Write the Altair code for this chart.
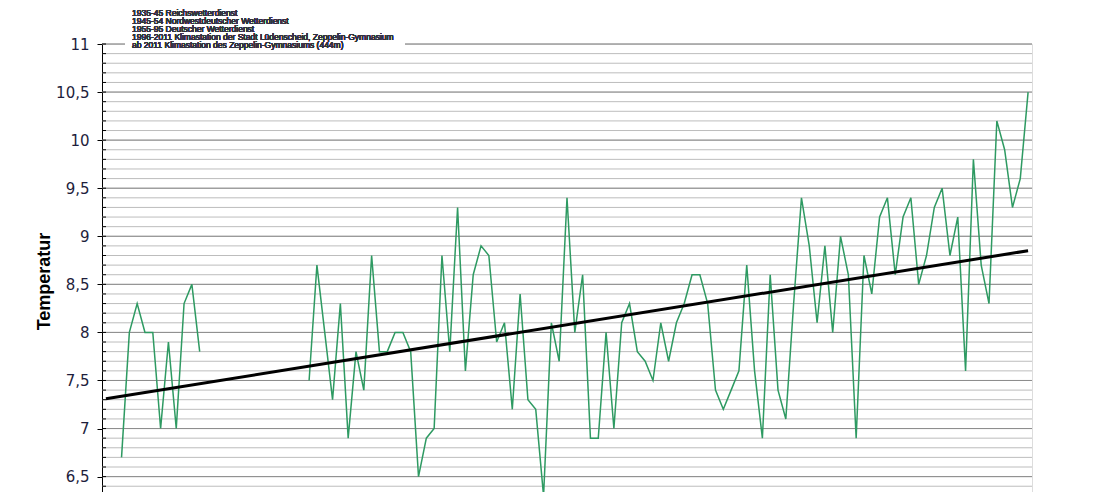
import altair as alt
import pandas as pd

# ---------------- data ----------------
years = list(range(1902, 2019))
temps = [
    6.7, 8.0, 8.3, 8.0, 8.0, 7.0, 7.9, 7.0, 8.3, 8.5, 7.8,          # 1902-1912
    None, None, None, None, None, None, None, None, None, None, None, None, None,  # 1913-1925
    7.5, 8.7, 8.0, 7.3, 8.3, 6.9, 7.8, 7.4, 8.8, 7.8,              # 1926-1935
    7.8, 8.0, 8.0, 7.8, 6.5, 6.9, 7.0, 8.8, 7.8, 9.3,              # 1936-1945
    7.6, 8.6, 8.9, 8.8, 7.9, 8.1, 7.2, 8.4, 7.3, 7.2,              # 1946-1955
    6.3, 8.1, 7.7, 9.4, 8.0, 8.6, 6.9, 6.9, 8.0, 7.0,              # 1956-1965
    8.1, 8.3, 7.8, 7.7, 7.5, 8.1, 7.7, 8.1, 8.3, 8.6,              # 1966-1975
    8.6, 8.3, 7.4, 7.2, 7.4, 7.6, 8.7, 7.6, 6.9, 8.6,              # 1976-1985
    7.4, 7.1, 8.3, 9.4, 8.9, 8.1, 8.9, 8.0, 9.0, 8.6,              # 1986-1995
    6.9, 8.8, 8.4, 9.2, 9.4, 8.6, 9.2, 9.4, 8.5, 8.8,              # 1996-2005
    9.3, 9.5, 8.8, 9.2, 7.6, 9.8, 8.7, 8.3, 10.2, 9.9,             # 2006-2015
    9.3, 9.6, 10.5,                                                # 2016-2018
]
trend_years = [1900, 2018]
trend_values = [7.31, 8.85]

major_ticks = [6.5, 7.0, 7.5, 8.0, 8.5, 9.0, 9.5, 10.0, 10.5, 11.0]
minor_ticks = [round(6.4 + 0.1 * i, 1) for i in range(47)]

header_lines = [
    "1935-45 Reichswetterdienst",
    "1945-54 Nordwestdeutscher Wetterdienst",
    "1955-95 Deutscher Wetterdienst",
    "1996-2011 Klimastation der Stadt Lüdenscheid, Zeppelin-Gymnasium",
    "ab 2011 Klimastation des Zeppelin-Gymnasiums (444m)",
]
y_title = "Temperatur"

# ---------------- tables ----------------
seg_ids = []
seg = 0
gap = False
for t in temps:
    if t is None:
        gap = True
        seg_ids.append(None)
    else:
        if gap:
            seg += 1
            gap = False
        seg_ids.append(seg)
df = pd.DataFrame({"year": years, "temp": temps, "seg": seg_ids}).dropna()
trend_df = pd.DataFrame({"year": trend_years, "temp": trend_values})
minor_df = pd.DataFrame({"v": minor_ticks})
major_df = pd.DataFrame({"v": major_ticks})

xscale = alt.Scale(domain=[1899.5, 2018.5], nice=False, zero=False)
yscale = alt.Scale(domain=[6.34, 11], nice=False, zero=False)

yaxis = alt.Axis(
    values=major_ticks,
    grid=False,
    tickSize=5,
    tickColor="black",
    tickWidth=1,
    domainColor="black",
    domainWidth=1,
    labelExpr="replace(format(datum.value, ''), '.', ',')",
    labelFont="DejaVu Sans",
    labelFontSize=15,
    labelColor="#1e1e3c",
    labelPadding=8,
    title=y_title,
    titleFont="Liberation Sans",
    titleFontSize=18,
    titleFontWeight="bold",
    titleColor="black",
    titleAngle=-90,
    titleAlign="center",
    titleBaseline="middle",
    titleX=-58,
    titleY=237,
)

grid_minor = alt.Chart(minor_df).mark_rule(color="#bdbdbd", strokeWidth=1).encode(
    y=alt.Y("v:Q", scale=yscale, axis=yaxis)
)
grid_major = alt.Chart(major_df).mark_rule(color="#8c8c8c", strokeWidth=1).encode(
    y=alt.Y("v:Q", scale=yscale, axis=yaxis)
)
minor_marks = alt.Chart(minor_df).mark_rule(color="black", strokeWidth=1).encode(
    y=alt.Y("v:Q", scale=yscale, axis=yaxis),
    x=alt.value(0),
    x2=alt.value(4),
)

temp_line = alt.Chart(df).mark_line(color="#2e9a62", strokeWidth=1.5, clip=True).encode(
    x=alt.X("year:Q", scale=xscale, axis=None),
    y=alt.Y("temp:Q", scale=yscale, axis=yaxis),
    detail="seg:N",
)
trend_line = alt.Chart(trend_df).mark_line(color="black", strokeWidth=3).encode(
    x=alt.X("year:Q", scale=xscale, axis=None),
    y=alt.Y("temp:Q", scale=yscale, axis=yaxis),
)

box = alt.Chart(major_df).mark_rect(color="white").encode(
    x=alt.value(23), x2=alt.value(303), y=alt.value(-40), y2=alt.value(5)
)
header = alt.Chart(major_df).mark_text(
    align="left", baseline="top", font="Liberation Sans", fontSize=8.5,
    lineHeight=8.1, color="#333340",
).encode(x=alt.value(30), y=alt.value(-35), text=alt.value(header_lines))

chart = alt.layer(
    grid_minor, grid_major, minor_marks, temp_line, trend_line, box, header
).properties(
    width=930,
    height=448,
    autosize=alt.AutoSizeParams(type="none"),
    padding={"left": 94, "top": 36, "right": 5, "bottom": 0},
).configure_view(stroke="#8c8c8c", strokeWidth=1).configure(background="white")

chart.save("out.html", embed_options={"renderer": "svg", "actions": False})
